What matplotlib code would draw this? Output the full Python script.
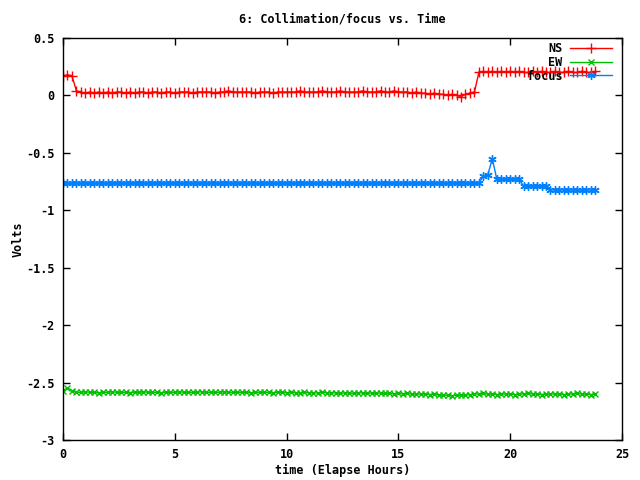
import numpy as np
import matplotlib
matplotlib.use("Agg")
import matplotlib.pyplot as plt

# sample times (hours), one reading every 0.2 h
hours = np.round(np.arange(0, 24, 0.2), 1)

ns = [0.17, 0.18, 0.17, 0.04, 0.03, 0.02, 0.03, 0.02, 0.03, 0.02,
      0.03, 0.02, 0.03, 0.03, 0.02, 0.03, 0.02, 0.03, 0.03, 0.02,
      0.03, 0.03, 0.02, 0.03, 0.03, 0.02, 0.03, 0.03, 0.03, 0.02,
      0.03, 0.03, 0.03, 0.03, 0.02, 0.03, 0.03, 0.04, 0.03, 0.03,
      0.03, 0.03, 0.03, 0.02, 0.03, 0.03, 0.03, 0.02, 0.03, 0.03,
      0.03, 0.03, 0.03, 0.04, 0.03, 0.03, 0.03, 0.03, 0.04, 0.03,
      0.03, 0.03, 0.04, 0.03, 0.03, 0.03, 0.03, 0.04, 0.03, 0.03,
      0.03, 0.04, 0.03, 0.03, 0.04, 0.03, 0.03, 0.03, 0.02, 0.03,
      0.02, 0.02, 0.01, 0.02, 0.01, 0.01, 0.00, 0.01, 0.00, -0.01,
      0.01, 0.02, 0.03, 0.20, 0.21, 0.20, 0.21, 0.20, 0.21, 0.20,
      0.21, 0.20, 0.21, 0.20, 0.20, 0.21, 0.20, 0.21, 0.20, 0.20,
      0.21, 0.20, 0.20, 0.21, 0.20, 0.20, 0.21, 0.20, 0.20, 0.21]

ew = [-2.57, -2.55, -2.57, -2.585, -2.585, -2.58, -2.585, -2.585, -2.59, -2.585,
      -2.585, -2.58, -2.585, -2.585, -2.585, -2.59, -2.585, -2.585, -2.58, -2.585,
      -2.585, -2.585, -2.59, -2.585, -2.585, -2.585, -2.58, -2.585, -2.585, -2.585,
      -2.585, -2.58, -2.585, -2.585, -2.585, -2.585, -2.58, -2.585, -2.585, -2.585,
      -2.585, -2.585, -2.59, -2.585, -2.585, -2.585, -2.585, -2.59, -2.585, -2.585,
      -2.59, -2.585, -2.59, -2.59, -2.585, -2.59, -2.59, -2.59, -2.585, -2.59,
      -2.59, -2.59, -2.595, -2.59, -2.59, -2.595, -2.59, -2.59, -2.595, -2.59,
      -2.595, -2.59, -2.595, -2.595, -2.60, -2.595, -2.60, -2.595, -2.60, -2.60,
      -2.60, -2.60, -2.605, -2.60, -2.61, -2.61, -2.61, -2.615, -2.61, -2.61,
      -2.61, -2.605, -2.60, -2.60, -2.595, -2.60, -2.60, -2.605, -2.60, -2.60,
      -2.60, -2.605, -2.60, -2.60, -2.595, -2.60, -2.60, -2.605, -2.60, -2.60,
      -2.60, -2.60, -2.605, -2.60, -2.60, -2.595, -2.60, -2.60, -2.605, -2.60]

focus = [-0.765, -0.765, -0.765, -0.765, -0.765, -0.765, -0.765, -0.765, -0.765, -0.765,
         -0.765, -0.765, -0.765, -0.765, -0.765, -0.765, -0.765, -0.765, -0.765, -0.765,
         -0.765, -0.765, -0.765, -0.765, -0.765, -0.765, -0.765, -0.765, -0.765, -0.765,
         -0.765, -0.765, -0.765, -0.765, -0.765, -0.765, -0.765, -0.765, -0.765, -0.765,
         -0.765, -0.765, -0.765, -0.765, -0.765, -0.765, -0.765, -0.765, -0.765, -0.765,
         -0.765, -0.765, -0.765, -0.765, -0.765, -0.765, -0.765, -0.765, -0.765, -0.765,
         -0.765, -0.765, -0.765, -0.765, -0.765, -0.765, -0.765, -0.765, -0.765, -0.765,
         -0.765, -0.765, -0.765, -0.765, -0.765, -0.765, -0.765, -0.765, -0.765, -0.765,
         -0.765, -0.765, -0.765, -0.765, -0.765, -0.765, -0.765, -0.765, -0.765, -0.765,
         -0.765, -0.765, -0.765, -0.765, -0.70, -0.69, -0.55, -0.73, -0.73, -0.73,
         -0.73, -0.73, -0.73, -0.79, -0.79, -0.79, -0.79, -0.79, -0.79, -0.82,
         -0.82, -0.82, -0.82, -0.825, -0.82, -0.82, -0.825, -0.82, -0.82, -0.825]

xticks = [0, 5, 10, 15, 20, 25]
yticks = [0.5, 0, -0.5, -1, -1.5, -2, -2.5, -3]
ytick_labels = ["0.5", "0", "-0.5", "-1", "-1.5", "-2", "-2.5", "-3"]

plt.rcParams['font.family'] = ['DejaVu Sans Mono']
plt.rcParams['font.weight'] = 'bold'

fig = plt.figure(figsize=(6.4, 4.8), dpi=100)
ax = fig.add_axes([63 / 640, 40 / 480, 559 / 640, 402 / 480])

ax.plot(hours, ns, color='#ff0000', lw=1, marker='+', ms=7, mew=1, label='NS')
ax.plot(hours, ew, color='#00c000', lw=1, marker='x', ms=5, mew=1, label='EW')
ax.plot(hours, focus, color='#0080ff', lw=1, marker=(6, 2, 0), ms=6, mew=1, label='focus')

ax.set_xlim(0, 25)
ax.set_ylim(-3, 0.5)
ax.set_xticks(xticks)
ax.set_xticklabels([str(x) for x in xticks])
ax.set_yticks(yticks)
ax.set_yticklabels(ytick_labels)
ax.tick_params(direction='in', length=5, width=1, top=True, right=True,
               labelsize=8.5, pad=6)
for s in ax.spines.values():
    s.set_linewidth(1)

ax.set_title("6: Collimation/focus vs. Time", fontsize=8.5, fontweight='bold', pad=11)
ax.set_xlabel("time (Elapse Hours)", fontsize=8.5, fontweight='bold', labelpad=2)
ax.set_ylabel("Volts", fontsize=8.5, fontweight='bold', labelpad=1)

ax.legend(loc='upper right', bbox_to_anchor=(0.989, 0.998), frameon=False,
          markerfirst=False, fontsize=8.5, handlelength=3.6, labelspacing=0.05,
          borderaxespad=0.0, borderpad=0.3, handletextpad=0.6)

fig.savefig("out.png", dpi=100)
